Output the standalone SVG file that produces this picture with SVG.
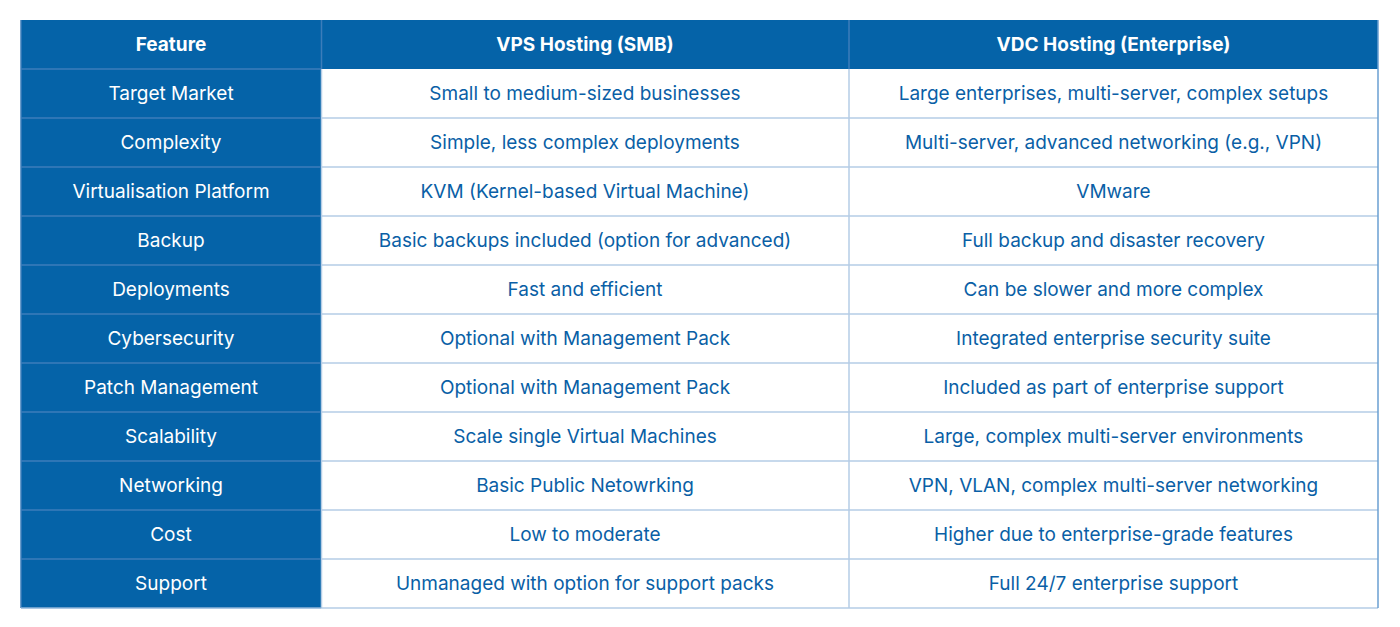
<svg xmlns="http://www.w3.org/2000/svg" width="1400" height="627" viewBox="0 0 1400 627">
<style>
.t{font-family:Inter,"Noto Sans","Liberation Sans",sans-serif;font-size:19px;text-anchor:middle}
.h{fill:#ffffff;font-weight:700}
.f{fill:#ffffff}
.c{fill:#0A5FA6}
.gl{stroke:#B5CDE6;stroke-width:1.5;fill:none}
.bl{stroke:#3C7DBA;stroke-width:1.5;fill:none}
</style>
<rect width="1400" height="627" fill="#ffffff"/>
<g id="table-bg">
<rect x="21" y="20" width="1357" height="49" fill="#0563A8"/>
<rect x="21" y="69" width="300.5" height="539" fill="#0563A8"/>
</g>
<g id="grid">
<path class="gl" d="M321.5 118H1378M321.5 167H1378M321.5 216H1378M321.5 265H1378M321.5 314H1378M321.5 363H1378M321.5 412H1378M321.5 461H1378M321.5 510H1378M321.5 559H1378M321.5 608H1378M849 69V608M321.5 69V608"/>
<path class="bl" d="M21 69H321M21 118H321M21 167H321M21 216H321M21 265H321M21 314H321M21 363H321M21 412H321M21 461H321M21 510H321M21 559H321M321.5 20V69M849 20V69M21 20V608"/>
<path d="M1378 20V608" stroke="#6A9FD2" stroke-width="1.5"/>
<path d="M21 608H321.5" stroke="#8FB4DA" stroke-width="1.5"/>
</g>
<g id="header">
<text class="t h" x="171" y="51">Feature</text>
<text class="t h" x="585" y="51">VPS Hosting (SMB)</text>
<text class="t h" x="1113.5" y="51">VDC Hosting (Enterprise)</text>
</g>
<g id="row-target-market">
<text class="t f" x="171" y="100">Target Market</text>
<text class="t c" x="585" y="100">Small to medium-sized businesses</text>
<text class="t c" x="1113.5" y="100">Large enterprises, multi-server, complex setups</text>
</g>
<g id="row-complexity">
<text class="t f" x="171" y="149">Complexity</text>
<text class="t c" x="585" y="149">Simple, less complex deployments</text>
<text class="t c" x="1113.5" y="149">Multi-server, advanced networking (e.g., VPN)</text>
</g>
<g id="row-virtualisation">
<text class="t f" x="171" y="198">Virtualisation Platform</text>
<text class="t c" x="585" y="198">KVM (Kernel-based Virtual Machine)</text>
<text class="t c" x="1113.5" y="198">VMware</text>
</g>
<g id="row-backup">
<text class="t f" x="171" y="247">Backup</text>
<text class="t c" x="585" y="247">Basic backups included (option for advanced)</text>
<text class="t c" x="1113.5" y="247">Full backup and disaster recovery</text>
</g>
<g id="row-deployments">
<text class="t f" x="171" y="296">Deployments</text>
<text class="t c" x="585" y="296">Fast and efficient</text>
<text class="t c" x="1113.5" y="296">Can be slower and more complex</text>
</g>
<g id="row-cybersecurity">
<text class="t f" x="171" y="345">Cybersecurity</text>
<text class="t c" x="585" y="345">Optional with Management Pack</text>
<text class="t c" x="1113.5" y="345">Integrated enterprise security suite</text>
</g>
<g id="row-patch">
<text class="t f" x="171" y="394">Patch Management</text>
<text class="t c" x="585" y="394">Optional with Management Pack</text>
<text class="t c" x="1113.5" y="394">Included as part of enterprise support</text>
</g>
<g id="row-scalability">
<text class="t f" x="171" y="443">Scalability</text>
<text class="t c" x="585" y="443">Scale single Virtual Machines</text>
<text class="t c" x="1113.5" y="443">Large, complex multi-server environments</text>
</g>
<g id="row-networking">
<text class="t f" x="171" y="492">Networking</text>
<text class="t c" x="585" y="492">Basic Public Netowrking</text>
<text class="t c" x="1113.5" y="492">VPN, VLAN, complex multi-server networking</text>
</g>
<g id="row-cost">
<text class="t f" x="171" y="541">Cost</text>
<text class="t c" x="585" y="541">Low to moderate</text>
<text class="t c" x="1113.5" y="541">Higher due to enterprise-grade features</text>
</g>
<g id="row-support">
<text class="t f" x="171" y="590">Support</text>
<text class="t c" x="585" y="590">Unmanaged with option for support packs</text>
<text class="t c" x="1113.5" y="590">Full 24/7 enterprise support</text>
</g>
</svg>
